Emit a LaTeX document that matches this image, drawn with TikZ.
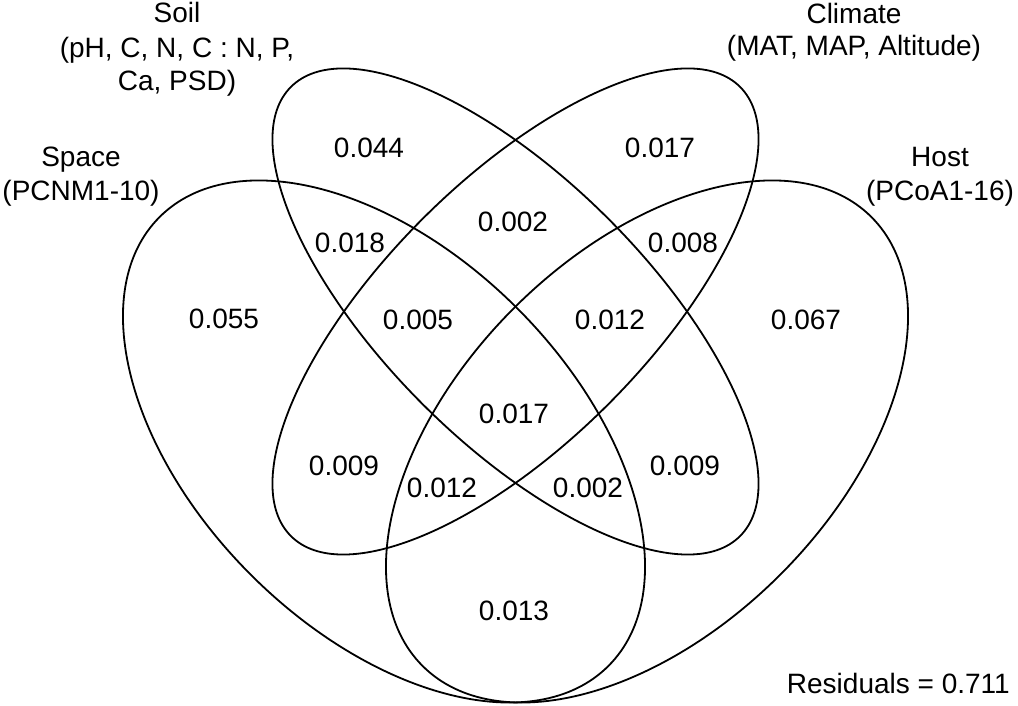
\documentclass[tikz,border=0pt]{standalone}
\usepackage{fontspec}
\setmainfont{Liberation Sans}
\begin{document}
\begin{tikzpicture}[x=1pt,y=1pt,
  venn/.style={draw=black,line width=1.8pt},
  val/.style={inner sep=0pt,font=\fontsize{28}{34}\selectfont},
  lab/.style={inner sep=0pt,anchor=base,font=\fontsize{28}{34}\selectfont}]
\fill[white] (0,0) rectangle (1018,706);
\useasboundingbox (0,0) rectangle (1018,706);
% sets
\draw[venn, rotate around={-45:(384,264.5)}] (384,264.5) ellipse [x radius=317.4pt, y radius=188.4pt];
\draw[venn, rotate around={45:(647,264.5)}] (647,264.5) ellipse [x radius=317.4pt, y radius=188.4pt];
\draw[venn, rotate around={-45:(515.5,394.5)}] (515.5,394.5) ellipse [x radius=317.6pt, y radius=131.2pt];
\draw[venn, rotate around={45:(515.5,394.5)}] (515.5,394.5) ellipse [x radius=317.6pt, y radius=131.2pt];
% values
\node[val] (n044) at (369,558) {0.044};
\node[val] (n017a) at (660,558) {0.017};
\node[val] (n002a) at (513,484) {0.002};
\node[val] (n018) at (350,463) {0.018};
\node[val] (n008) at (683,463) {0.008};
\node[val] (n055) at (224,387) {0.055};
\node[val] (n005) at (418,386) {0.005};
\node[val] (n012a) at (610,386) {0.012};
\node[val] (n067) at (806,386) {0.067};
\node[val] (n017b) at (514,292) {0.017};
\node[val] (n009a) at (344,240) {0.009};
\node[val] (n009b) at (685,240) {0.009};
\node[val] (n012b) at (442,218) {0.012};
\node[val] (n002b) at (588,218) {0.002};
\node[val] (n013) at (514,95) {0.013};
\node[lab,anchor=base east] (resid) at (1010,12) {Residuals = 0.711};
% labels
\node[lab] (soil1) at (177,683) {Soil};
\node[lab] (soil2) at (177,648) {(pH, C, N, C : N, P,};
\node[lab] (soil3) at (177,615) {Ca, PSD)};
\node[lab] (clim1) at (854,682) {Climate};
\node[lab] (clim2) at (854,650) {(MAT, MAP, Altitude)};
\node[lab] (space1) at (81,539) {Space};
\node[lab] (space2) at (81,505) {(PCNM1-10)};
\node[lab] (host1) at (940,539) {Host};
\node[lab] (host2) at (940,505) {(PCoA1-16)};
\end{tikzpicture}
\end{document}
